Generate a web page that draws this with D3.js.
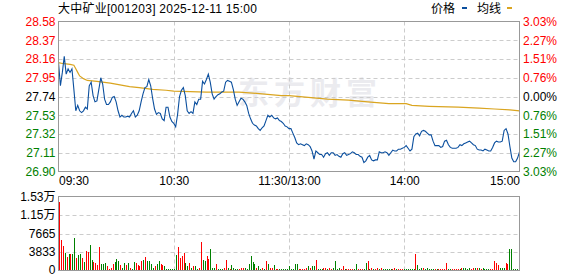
<!DOCTYPE html>
<html>
<head>
<meta charset="utf-8">
<script src="https://cdn.jsdelivr.net/npm/d3@7"></script>
<style>
  body { margin: 0; background: #fff; }
  svg { display: block; font-family: "Liberation Sans", Arial, "Noto Sans CJK SC", sans-serif; }
</style>
</head>
<body>
<svg width="578" height="276"></svg>
<script>
const title = "大中矿业[001203] 2025-12-11 15:00";
const legendNames = ["价格", "均线"];
const preClose = 27.74;
const priceTicks = [26.90, 27.11, 27.32, 27.53, 27.74, 27.95, 28.16, 28.37, 28.58];
const pctLabels = ["3.03%", "2.27%", "1.51%", "0.76%", "0.00%", "0.76%", "1.51%", "2.27%", "3.03%"];
const timeTicks = [0, 60, 120, 180, 240];
const timeLabels = ["09:30", "10:30", "11:30/13:00", "14:00", "15:00"];
const volTicks = [0, 3833, 7665, 11498, 15330];
const volLabels = ["0", "3833", "7665", "1.15万", "1.53万"];

// minute prices, 09:30 .. 15:00 (241 points)
const price = [
  28.12, 27.86, 28.01, 28.19, 27.99, 28.05, 28.01, 28.05, 27.82, 27.58,
  27.64, 27.58, 27.56, 27.58, 27.62, 27.60, 27.86, 27.90, 27.75, 27.68,
  27.69, 27.82, 27.95, 27.88, 27.71, 27.65, 27.65, 27.68, 27.73, 27.74,
  27.68, 27.58, 27.51, 27.53, 27.51, 27.51, 27.52, 27.51, 27.55, 27.58,
  27.51, 27.53, 27.58, 27.68, 27.77, 27.84, 27.85, 27.93, 27.86, 27.72,
  27.60, 27.54, 27.56, 27.55, 27.49, 27.47, 27.62, 27.62, 27.51, 27.46,
  27.44, 27.40, 27.54, 27.74, 27.81, 27.84, 27.75, 27.58, 27.55, 27.57,
  27.55, 27.68, 27.65, 27.71, 27.71, 27.91, 27.88, 27.93, 27.99, 27.90,
  27.77, 27.71, 27.74, 27.76, 27.77, 27.79, 27.80, 27.90, 27.92, 27.91,
  27.90, 27.82, 27.71, 27.64, 27.68, 27.72, 27.71, 27.68, 27.64, 27.55,
  27.49, 27.44, 27.42, 27.41, 27.38, 27.36, 27.39, 27.41, 27.47, 27.53,
  27.51, 27.53, 27.50, 27.49, 27.50, 27.47, 27.46, 27.44, 27.41, 27.40,
  27.38, 27.38, 27.33, 27.28, 27.22, 27.20, 27.21, 27.20, 27.19, 27.21,
  27.20, 27.18, 27.13, 27.04, 27.13, 27.11, 27.09, 27.09, 27.06, 27.10,
  27.11, 27.08, 27.11, 27.11, 27.08, 27.09, 27.07, 27.06, 27.10, 27.11,
  27.08, 27.09, 27.10, 27.12, 27.11, 27.09, 27.09, 27.07, 27.06, 27.00,
  27.02, 27.06, 27.08, 27.03, 27.02, 27.03, 27.03, 27.12, 27.11, 27.11,
  27.12, 27.11, 27.08, 27.11, 27.14, 27.13, 27.13, 27.15, 27.15, 27.16,
  27.17, 27.19, 27.16, 27.13, 27.15, 27.29, 27.32, 27.33, 27.30, 27.35,
  27.36, 27.35, 27.33, 27.31, 27.31, 27.24, 27.19, 27.19, 27.19, 27.17,
  27.18, 27.24, 27.25, 27.20, 27.17, 27.16, 27.16, 27.16, 27.17, 27.20,
  27.19, 27.21, 27.22, 27.23, 27.24, 27.22, 27.20, 27.19, 27.15, 27.14,
  27.14, 27.13, 27.15, 27.14, 27.13, 27.13, 27.17, 27.22, 27.24, 27.23,
  27.23, 27.24, 27.36, 27.38, 27.32, 27.18, 27.05, 27.01, 27.01, 27.05, 27.12
];

// average price line, read at these minutes
const avgMin = [0, 2, 6, 8, 9, 10, 11, 13, 15, 20, 27, 32, 37, 42, 49, 56, 60, 77, 94, 106,
  116, 120, 130, 140, 151, 161, 172, 181, 184, 193, 208, 219, 227, 235, 240];
const avgPrice = [28.12, 28.11, 28.10, 28.09, 28.05, 28.01, 27.97, 27.94, 27.92, 27.91,
  27.89, 27.87, 27.85, 27.84, 27.82, 27.81, 27.80, 27.79, 27.79, 27.77,
  27.75, 27.75, 27.73, 27.71, 27.70, 27.68, 27.66, 27.66, 27.64, 27.63,
  27.62, 27.61, 27.60, 27.59, 27.58];

// minute volume (lots) and whether that minute was up (1) or down (0)
const volume = [
  14160, 6250, 5000, 3540, 2900, 3330, 3330, 3330, 6660, 2500,
  3120, 3330, 2500, 1670, 3960, 3750, 5200, 2080, 1670, 1460,
  1040, 4790, 1250, 1250, 1460, 830, 210, 620, 1250, 1670,
  2290, 1870, 1040, 620, 1460, 1040, 1460, 620, 210, 1670,
  1460, 1040, 830, 1870, 2080, 2710, 1870, 1870, 1250, 420,
  830, 1250, 1870, 1250, 1040, 830, 210, 210, 210, 210,
  210, 3120, 4790, 2500, 2920, 3540, 1460, 830, 1460, 620,
  830, 830, 210, 420, 5830, 2080, 1870, 2920, 2290, 4370,
  620, 420, 1250, 210, 210, 210, 620, 2080, 620, 210,
  1040, 620, 210, 210, 210, 420, 620, 420, 210, 1250,
  2920, 1670, 1250, 620, 830, 210, 420, 210, 1870, 1250,
  420, 620, 1040, 210, 210, 210, 210, 210, 210, 210,
  830, 210, 210, 1250, 1250, 210, 210, 210, 210, 420,
  830, 620, 830, 830, 2080, 210, 210, 210, 620, 420,
  210, 420, 210, 420, 1870, 210, 420, 210, 830, 210,
  210, 210, 210, 210, 210, 1250, 210, 210, 210, 210,
  1460, 1870, 210, 620, 210, 210, 620, 210, 620, 210,
  210, 210, 210, 210, 210, 420, 210, 210, 210, 210,
  210, 210, 210, 210, 210, 210, 3330, 1040, 210, 620,
  420, 210, 420, 210, 210, 210, 210, 210, 210, 210,
  210, 210, 1460, 210, 210, 210, 210, 210, 210, 210,
  620, 420, 420, 210, 420, 210, 420, 620, 620, 620,
  210, 620, 210, 210, 210, 210, 210, 1870, 1460, 1040,
  420, 620, 420, 1460, 1250, 4370, 4370, 210, 210, 210, 3750
];
const volUp = [
  1,1,1,0,1,0,1,0,0,1, 0,0,1,0,1,1,0,0,1,1, 1,1,0,0,0,1,1,1,1,0,
  0,0,1,0,0,1,0,1,0,0, 1,1,1,1,0,1,0,0,0,0, 1,0,0,1,1,0,0,0,0,0,
  0,0,1,1,1,1,0,0,1,0, 1,0,0,1,1,0,0,1,1,0, 0,0,1,0,0,0,1,1,0,1,
  0,0,0,0,1,1,1,0,0,0, 0,0,0,1,0,0,1,0,1,0, 1,1,0,1,1,0,0,0,0,0,
  0,0,0,0,0,1,1,1,1,1, 0,1,0,0,1,0,0,0,1,1, 0,1,1,0,0,0,0,1,1,0,
  1,1,1,1,0,0,1,1,1,0, 0,1,0,1,0,1,1,0,1,0, 0,0,0,0,1,1,0,1,1,1,
  0,0,0,0,0,0,1,0,0,0, 1,0,0,0,0,0,1,0,1,1, 1,1,1,0,0,1,1,1,1,0,
  1,0,0,0,0,1,1,0,1,0, 1,0,0,0,0,1,1,1,1,1, 0,0,0,1,1,0,0,0,0,0,1
];

const RED = "#ff0000", GREEN = "#008000", GRID = "#cccccc", FRAME = "#999999";
const LINE = "#0b4f9e", AVG = "#daa520";

const svg = d3.select("svg");
const left = 58.5, right = 519.5;
const pTop = 21.5, pBot = 171.5, vTop = 196.5, vBot = 270.5;

const x = d3.scaleLinear().domain([0, 240]).range([left, right]);
const y = d3.scaleLinear().domain([26.90, 28.58]).range([pBot, pTop]);
const yv = d3.scaleLinear().domain([0, 15330]).range([vBot, vTop]);
const xb = d3.scaleBand().domain(d3.range(volume.length)).range([59, 520]).paddingInner(0.45);

// title + legend
svg.append("text").attr("x", 58).attr("y", 13).attr("font-size", 12).attr("fill", "#000")
  .attr("letter-spacing", 0.25).text(title);
const lg = svg.append("g").attr("font-size", 12);
lg.append("text").attr("x", 431).attr("y", 13).text(legendNames[0]);
lg.append("rect").attr("x", 462).attr("y", 7).attr("width", 5).attr("height", 2).attr("fill", LINE);
lg.append("text").attr("x", 477).attr("y", 13).text(legendNames[1]);
lg.append("rect").attr("x", 507).attr("y", 7).attr("width", 5).attr("height", 2).attr("fill", AVG);

// watermark
svg.append("text").attr("x", 238).attr("y", 104).attr("font-size", 31).attr("font-weight", "bold")
  .attr("letter-spacing", 5).attr("fill", "#ebebef").attr("font-family", "Noto Sans CJK SC")
  .text("东方财富");

// grids
const g1 = svg.append("g").attr("stroke", GRID).attr("stroke-dasharray", "4,3");
g1.selectAll("line.h").data(priceTicks.slice(1, -1)).join("line").attr("class", "h")
  .attr("x1", left).attr("x2", right)
  .attr("y1", d => Math.round(y(d)) + 0.5).attr("y2", d => Math.round(y(d)) + 0.5);
g1.selectAll("line.v").data(timeTicks.slice(1, -1)).join("line").attr("class", "v")
  .attr("x1", d => Math.round(x(d)) + 0.5).attr("x2", d => Math.round(x(d)) + 0.5)
  .attr("y1", pTop).attr("y2", pBot);
const g2 = svg.append("g").attr("stroke", GRID).attr("stroke-dasharray", "4,3");
g2.selectAll("line.h").data(volTicks.slice(1, -1)).join("line").attr("class", "h")
  .attr("x1", left).attr("x2", right)
  .attr("y1", d => Math.round(yv(d)) + 0.5).attr("y2", d => Math.round(yv(d)) + 0.5);
g2.selectAll("line.v").data(timeTicks.slice(1, -1)).join("line").attr("class", "v")
  .attr("x1", d => Math.round(x(d)) + 0.5).attr("x2", d => Math.round(x(d)) + 0.5)
  .attr("y1", vTop).attr("y2", vBot);

// volume bars
svg.append("g").attr("shape-rendering", "crispEdges")
  .selectAll("rect").data(volume).join("rect")
  .attr("x", (d, i) => Math.round(xb(i)))
  .attr("width", 1)
  .attr("y", d => yv(d))
  .attr("height", d => vBot - yv(d))
  .attr("fill", (d, i) => volUp[i] ? RED : GREEN);

// average line and price line
svg.append("path").datum(avgMin)
  .attr("d", d3.line().x(d => x(d)).y((d, i) => y(avgPrice[i])))
  .attr("fill", "none").attr("stroke", AVG).attr("stroke-width", 1.2);
svg.append("path").datum(price)
  .attr("d", d3.line().x((d, i) => x(i)).y(d => y(d)))
  .attr("fill", "none").attr("stroke", LINE).attr("stroke-width", 1.1);

// frames
svg.append("rect").attr("x", left).attr("y", pTop).attr("width", right - left).attr("height", pBot - pTop)
  .attr("fill", "none").attr("stroke", FRAME);
svg.append("rect").attr("x", left).attr("y", vTop).attr("width", right - left).attr("height", vBot - vTop)
  .attr("fill", "none").attr("stroke", FRAME);

// axes
const tickColor = d => d > preClose + 1e-6 ? RED : (d < preClose - 1e-6 ? GREEN : "#000");
const axL = svg.append("g").attr("transform", `translate(${left - 3},0)`)
  .call(d3.axisLeft(y).tickValues(priceTicks).tickSize(0).tickPadding(0).tickFormat(d3.format(".2f")));
const axR = svg.append("g").attr("transform", `translate(${right + 3.5},0)`)
  .call(d3.axisRight(y).tickValues(priceTicks).tickSize(0).tickPadding(0).tickFormat((d, i) => pctLabels[i]));
const axB = svg.append("g").attr("transform", `translate(0,${pBot})`)
  .call(d3.axisBottom(x).tickValues(timeTicks).tickSize(0).tickPadding(5).tickFormat((d, i) => timeLabels[i]));
const axV = svg.append("g").attr("transform", `translate(${left - 3},0)`)
  .call(d3.axisLeft(yv).tickValues(volTicks).tickSize(0).tickPadding(0).tickFormat((d, i) => volLabels[i]));

[axL, axR, axB, axV].forEach(a => {
  a.select(".domain").remove();
  a.selectAll("text").attr("font-size", 12).attr("font-family", '"Liberation Sans", Arial, "Noto Sans CJK SC", sans-serif');
});
axL.selectAll("text").attr("fill", d => tickColor(d));
axR.selectAll("text").attr("fill", d => tickColor(d));
axB.selectAll("text").attr("fill", "#000")
  .attr("text-anchor", (d, i) => i === 0 ? "start" : (i === timeTicks.length - 1 ? "end" : "middle"));
axV.selectAll("text").attr("fill", "#000")
  .attr("dy", d => d === 0 ? "0.22em" : "0.32em");
</script>
</body>
</html>
